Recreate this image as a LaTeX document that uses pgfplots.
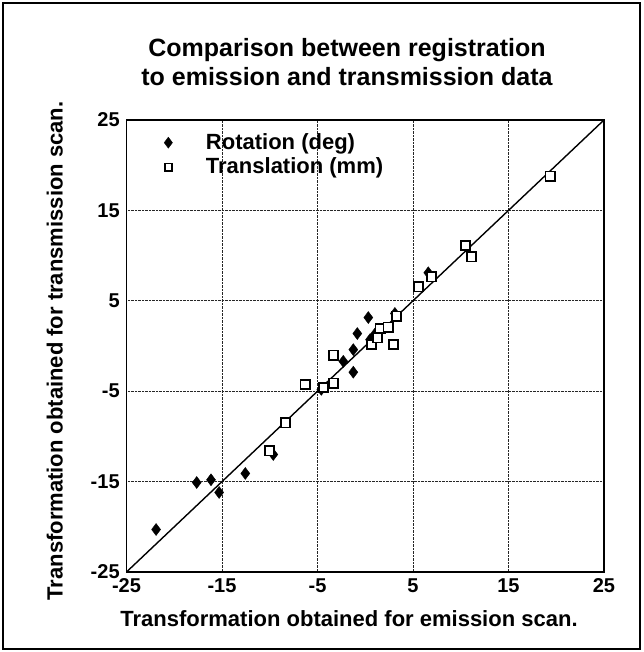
\documentclass[border=0pt]{standalone}
\usepackage{fontspec}
\setmainfont{Liberation Sans}
\usepackage{pgfplots}
\pgfplotsset{compat=1.18}
\begin{document}
\fontsize{20}{24}\selectfont
\begin{tikzpicture}[x=1pt,y=1pt]
\useasboundingbox (-126.5,-80) rectangle (516.5,572);
\draw[line width=2pt] (-123.5,-77) rectangle (513.5,569);
\node[anchor=base, font=\bfseries\fontsize{25}{30}\selectfont, inner sep=0pt] at (220.5,515) {Comparison between registration};
\node[anchor=base, font=\bfseries\fontsize{25}{30}\selectfont, inner sep=0pt] at (220.5,486) {to emission and transmission data};
\begin{axis}[at={(0,0)}, anchor=south west, scale only axis,
  width=477.5pt, height=452pt,
  xmin=-25, xmax=25, ymin=-25, ymax=25,
  xtick={-25,-15,...,25}, ytick={-25,-15,...,25},
  grid=major, major grid style={black!85, densely dotted, line width=0.9pt},
  axis line style={line width=1.8pt},
  major tick length=0pt,
  tick label style={font=\bfseries\fontsize{20}{24}\selectfont},
  /pgf/number format/assume math mode=true,
  xlabel={Transformation obtained for emission scan.},
  ylabel={Transformation obtained for transmission scan.},
  xlabel style={at={(axis description cs:0.466,-0.104)}, anchor=center, font=\bfseries\fontsize{22}{26}\selectfont},
  ylabel style={at={(axis description cs:-0.150,0.489)}, anchor=center, font=\bfseries\fontsize{22}{26}\selectfont},
  legend style={at={(axis cs:-25,25)}, anchor=north west, xshift=37.5pt, yshift=-11pt, draw=none, fill=none,
    font=\bfseries\fontsize{22}{26}\selectfont, row sep=1.5pt, inner xsep=0pt, inner ysep=0pt,
    /tikz/every odd column/.append style={column sep=31.5pt}},
  legend cell align=left,
]
\addplot[only marks, mark=diamond*, mark size=6pt, mark options={fill=black, draw=black},
  legend image post style={mark size=5.5pt}] coordinates {
(-21.9,-20.3) (-17.65,-15.1) (-16.15,-14.8) (-15.3,-16.2) (-12.56,-14.1)
(-9.63,-12.0) (-4.6,-4.8) (-1.25,-2.9) (-2.3,-1.7) (-1.25,-0.4)
(-0.83,1.38) (0.32,3.15) (0.5,0.7) (1.0,1.3) (3.1,3.6) (6.6,8.1)
};
\addlegendentry{Rotation (deg)}
\addplot[only marks, mark=square*, mark size=4.6pt, mark options={fill=white, draw=black, line width=1.8pt},
  legend image post style={mark size=3.6pt}] coordinates {
(-10.05,-11.6) (-8.37,-8.5) (-6.3,-4.24) (-4.4,-4.6) (-3.35,-4.1)
(-3.35,-1.0) (0.68,0.16) (1.26,0.9) (1.55,1.93) (2.4,2.1) (2.94,0.16)
(3.3,3.3) (5.56,6.54) (6.96,7.65) (10.5,11.1) (11.15,9.86) (19.35,18.8)
};
\addlegendentry{Translation (mm)}
\addplot[black, line width=1.4pt, forget plot] coordinates {(-25,-25) (25,25)};
\end{axis}
\end{tikzpicture}
\end{document}
